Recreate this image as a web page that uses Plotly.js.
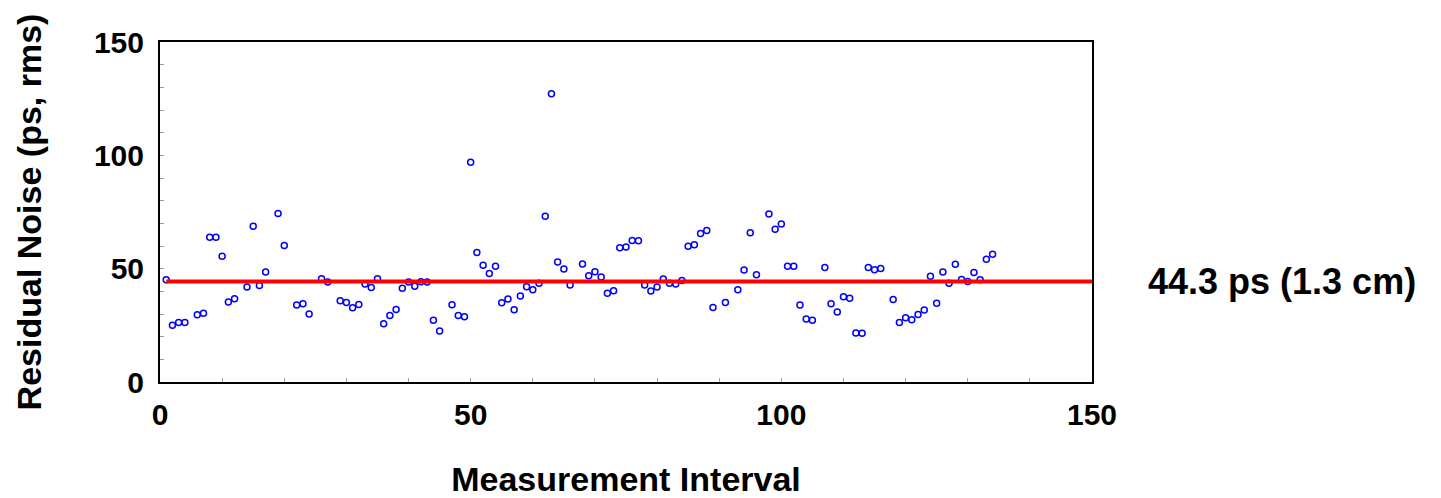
<!DOCTYPE html>
<html>
<head>
<meta charset="utf-8">
<script src="https://cdn.plot.ly/plotly-3.0.1.min.js"></script>
<style>html,body{margin:0;padding:0;background:#fff;}#chart{width:1441px;height:498px;}</style>
</head>
<body>
<div id="chart"></div>
<script>
// Measurement interval index
const intervals = [1,2,3,4,6,7,8,9,10,11,12,14,15,16,17,19,20,22,23,24,
  26,27,29,30,31,32,33,34,35,36,37,38,39,40,41,42,43,44,45,47,
  48,49,50,51,52,53,54,55,56,57,58,59,60,61,62,63,64,65,66,68,
  69,70,71,72,73,74,75,76,77,78,79,80,81,82,83,84,85,86,87,88,
  89,91,93,94,95,96,98,99,100,101,102,103,104,105,107,108,109,110,111,112,
  113,114,115,116,118,119,120,121,122,123,124,125,126,127,128,129,130,131,132,133,
  134];
// Residual noise (ps, rms)
const noise = [45.1,25.0,26.2,26.3,29.7,30.3,63.9,63.9,55.5,35.3,36.7,41.9,68.7,42.6,48.5,74.3,60.2,34.0,34.5,30.0,
  45.5,44.1,35.9,35.1,32.8,34.2,43.2,41.7,45.5,25.7,29.3,32.0,41.4,44.1,42.2,44.2,44.1,27.2,22.5,34.1,
  29.3,28.8,96.9,57.1,51.5,47.9,51.1,35.0,36.6,31.9,37.9,42.0,40.7,43.6,73.1,127.2,52.9,49.8,42.8,52.1,
  46.9,48.6,46.3,39.1,40.3,59.2,59.6,62.4,62.3,42.8,40.1,41.9,45.4,43.6,43.2,44.8,59.9,60.5,65.5,66.8,
  32.9,35.1,40.7,49.4,65.9,47.3,74.1,67.4,69.7,51.1,51.1,34.0,27.8,27.2,50.5,34.5,30.9,37.6,36.9,21.6,
  21.5,50.5,49.5,50.1,36.4,26.2,28.4,27.5,29.8,31.8,46.7,34.7,48.5,43.6,52.0,45.2,44.3,48.3,45.1,54.2,
  56.4];
// Mean level
const meanValue = 44.3;
const meanRange = [1, 150];
const meanLabel = "44.3 ps (1.3 cm)";
const xTitle = "Measurement Interval";
const yTitle = "Residual Noise (ps, rms)";

const FONT = "Liberation Sans, Arial, sans-serif";

const traces = [
  {
    x: intervals, y: noise, type: "scatter", mode: "markers",
    marker: {symbol: "circle-open", size: 6, color: "#0000ff", line: {width: 1.5, color: "#0000ff"}},
    showlegend: false, cliponaxis: true
  },
  {
    x: meanRange, y: [meanValue, meanValue], type: "scatter", mode: "lines",
    line: {color: "#ff0000", width: 4}, showlegend: false
  }
];

const axisCommon = {
  showgrid: false, zeroline: false, showline: true, mirror: true,
  linecolor: "#000", linewidth: 2,
  ticks: "inside", ticklen: 4, tickcolor: "#999", tickwidth: 1,
  minor: {dtick: 10, ticks: "inside", ticklen: 4, tickcolor: "#999", tickwidth: 1},
  tickfont: {family: FONT, size: 30, color: "#000", weight: "bold"},
  dtick: 50, tick0: 0, fixedrange: true
};

const layout = {
  width: 1441, height: 498,
  margin: {l: 159.5, r: 348.5, t: 41.5, b: 115.5},
  paper_bgcolor: "#fff", plot_bgcolor: "#fff",
  font: {family: FONT, color: "#000", weight: "bold"},
  xaxis: Object.assign({}, axisCommon, {
    range: [0, 150], ticklabelstandoff: 5,
    title: {text: xTitle, font: {family: FONT, size: 34, color: "#000", weight: "bold"}, standoff: 49}
  }),
  yaxis: Object.assign({}, axisCommon, {
    range: [0, 150], ticklabelstandoff: 8,
    title: {text: yTitle, font: {family: FONT, size: 34, color: "#000", weight: "bold"}, standoff: 42}
  }),
  annotations: [{
    xref: "paper", yref: "y", x: 1, y: meanValue, xshift: 54,
    xanchor: "left", yanchor: "middle", showarrow: false,
    text: meanLabel, font: {family: FONT, size: 36, color: "#000", weight: "bold"}
  }]
};

Plotly.newPlot("chart", traces, layout, {staticPlot: true, displayModeBar: false});
</script>
</body>
</html>
